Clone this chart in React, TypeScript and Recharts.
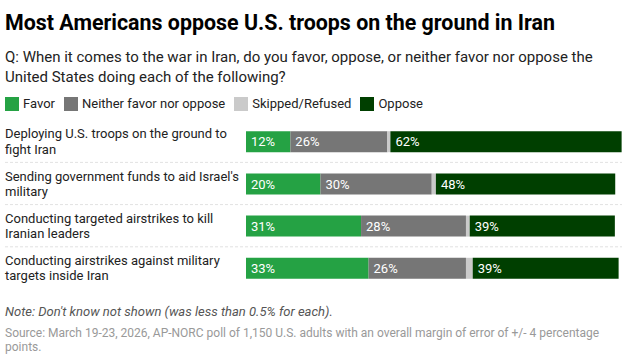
import { BarChart, Bar, XAxis, YAxis, LabelList } from 'recharts';

const categories = [
  'Deploying U.S. troops on the ground to\nfight Iran',
  "Sending government funds to aid Israel's\nmilitary",
  'Conducting targeted airstrikes to kill\nIranian leaders',
  'Conducting airstrikes against military\ntargets inside Iran',
];
const favor = [11.8, 19.8, 30.6, 32.6];
const neither = [25.8, 29.6, 27.9, 25.9];
const skipped = [0.8, 1.1, 1.0, 1.8];
const oppose = [61.5, 47.7, 38.6, 38.8];

const legendItems = [
  { name: 'Favor', color: '#25a244' },
  { name: 'Neither favor nor oppose', color: '#767676' },
  { name: 'Skipped/Refused', color: '#cacaca' },
  { name: 'Oppose', color: '#003f00' },
];

const data = categories.map((c, i) => ({
  label: c,
  favor: favor[i],
  neither: neither[i],
  skipped: skipped[i],
  oppose: oppose[i],
}));

const FONT = 'Roboto, "Noto Sans", sans-serif';
const CHART_H = 190;
const MARGIN = { top: 20.2, right: 4, bottom: 1, left: 0 };
const band = (CHART_H - MARGIN.top - MARGIN.bottom) / categories.length;

function RowLabel(props: any) {
  const { y, payload, index } = props;
  const lines = String(payload.value).split('\n');
  return (
    <g>
      <text x={5} y={y - 3} fontSize={13} fill="#222" fontFamily={FONT}>
        {lines.map((l, i) => (
          <tspan key={i} x={5} dy={i === 0 ? 0 : 15.5}>{l}</tspan>
        ))}
      </text>
      {index < categories.length - 1 && (
        <line x1={5} x2={622} y1={y + band / 2} y2={y + band / 2} stroke="#e2e2e2" strokeDasharray="3 2" />
      )}
    </g>
  );
}

const pct = (v: any) => `${Math.round(Number(v))}%`;

export default function App() {
  return (
    <div style={{ position: 'absolute', left: 0, top: 0, width: 626, height: 364, background: '#fff', fontFamily: FONT, overflow: 'hidden' }}>
      <div style={{ position: 'absolute', left: 5, top: 10, fontSize: 21.4, lineHeight: '25px', fontWeight: 700, color: '#000', whiteSpace: 'nowrap' }}>
        Most Americans oppose U.S. troops on the ground in Iran
      </div>
      <div style={{ position: 'absolute', left: 5, top: 46.6, width: 615, fontSize: 15, lineHeight: '20px', color: '#222' }}>
        Q: When it comes to the war in Iran, do you favor, oppose, or neither favor nor oppose the United States doing each of the following?
      </div>
      <div style={{ position: 'absolute', left: 5, top: 96, display: 'flex', alignItems: 'center', fontSize: 13, color: '#222' }}>
        {legendItems.map((it) => (
          <div key={it.name} style={{ display: 'flex', alignItems: 'center', marginRight: 9 }}>
            <span style={{ width: 14, height: 14, background: it.color, display: 'inline-block', marginRight: 4 }} />
            <span style={{ lineHeight: '16px' }}>{it.name}</span>
          </div>
        ))}
      </div>
      <div style={{ position: 'absolute', left: 0, top: 100 }}>
        <BarChart width={626} height={CHART_H} data={data} layout="vertical" margin={MARGIN} barSize={21}>
          <XAxis type="number" domain={[0, 100]} hide />
          <YAxis type="category" dataKey="label" width={246} axisLine={false} tickLine={false} tick={<RowLabel />} interval={0} />
          <Bar dataKey="favor" stackId="a" fill="#25a244" isAnimationActive={false}>
            <LabelList dataKey="favor" position="insideLeft" offset={5} fill="#fff" fontSize={13} fontFamily={FONT} formatter={pct} />
          </Bar>
          <Bar dataKey="neither" stackId="a" fill="#767676" isAnimationActive={false}>
            <LabelList dataKey="neither" position="insideLeft" offset={5} fill="#fff" fontSize={13} fontFamily={FONT} formatter={pct} />
          </Bar>
          <Bar dataKey="skipped" stackId="a" fill="#cacaca" isAnimationActive={false} />
          <Bar dataKey="oppose" stackId="a" fill="#003f00" isAnimationActive={false}>
            <LabelList dataKey="oppose" position="insideLeft" offset={5} fill="#fff" fontSize={13} fontFamily={FONT} formatter={pct} />
          </Bar>
        </BarChart>
      </div>
      <div style={{ position: 'absolute', left: 5, top: 304, fontSize: 13, lineHeight: '16px', fontStyle: 'italic', color: '#555' }}>
        Note: Don't know not shown (was less than 0.5% for each).
      </div>
      <div style={{ position: 'absolute', left: 5, top: 326, width: 600, fontSize: 12, lineHeight: '14px', color: '#999' }}>
        Source: March 19-23, 2026, AP-NORC poll of 1,150 U.S. adults with an overall margin of error of +/- 4 percentage points.
      </div>
    </div>
  );
}
